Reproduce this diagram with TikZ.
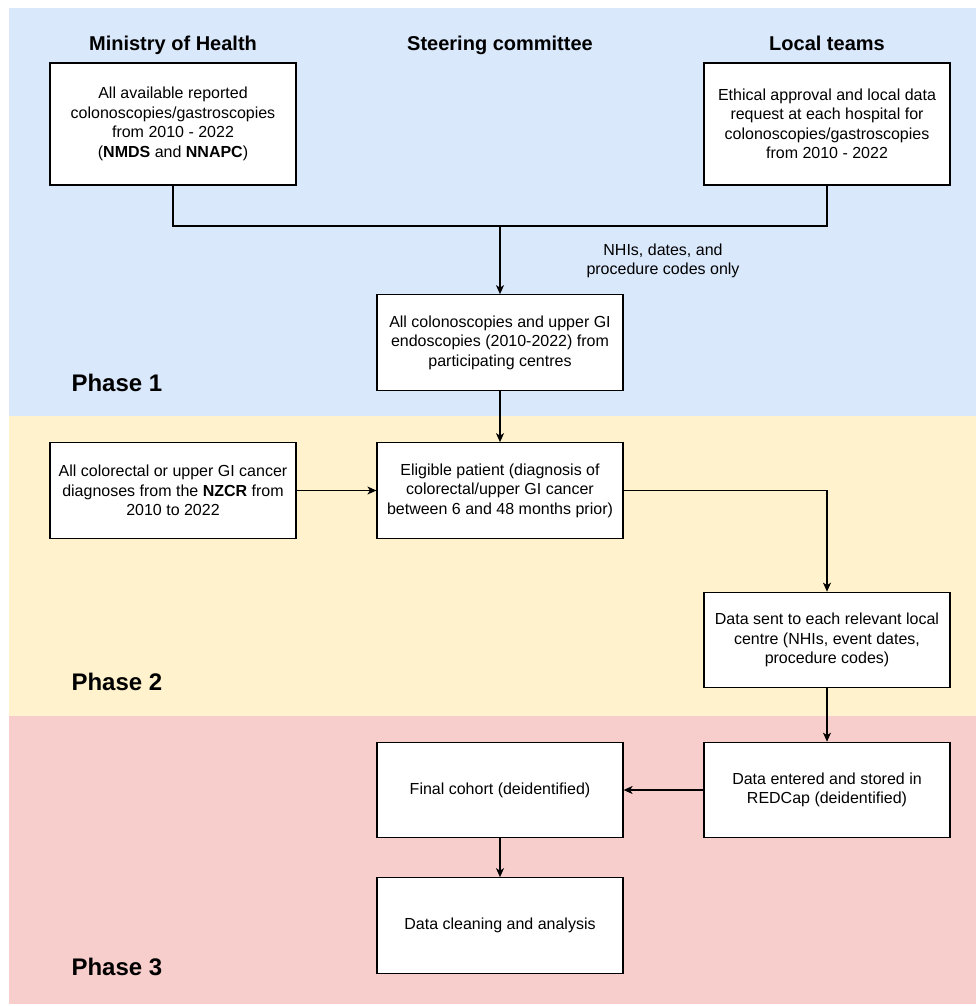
\documentclass[tikz,border=0pt]{standalone}
\usepackage{fontspec}
\setmainfont{Liberation Sans}
\usetikzlibrary{arrows.meta}
\definecolor{bandblue}{HTML}{DAE8FC}
\definecolor{bandyellow}{HTML}{FFF2CC}
\definecolor{bandred}{HTML}{F8CECC}
\begin{document}
\begin{tikzpicture}[x=1pt,y=-1pt,
  box/.style={draw=black, fill=white, line width=1.2pt, align=center,
    minimum width=246pt, minimum height=95.5pt, inner sep=0pt,
    font=\fontsize{16}{19.5}\selectfont},
  tallbox/.style={box, minimum height=122pt},
  head/.style={font=\fontsize{20}{24}\selectfont\bfseries, anchor=base},
  phase/.style={font=\fontsize{24}{28}\selectfont\bfseries, anchor=base west},
  lbl/.style={font=\fontsize{16}{19.5}\selectfont, align=center},
  conn/.style={draw=black, line width=1.2pt},
  arr/.style={conn, -{Stealth[length=9pt,width=8pt,inset=2.5pt]}}]
\useasboundingbox (0,0) rectangle (976,1006);
% bands
\fill[bandblue] (9,8) rectangle (976,416);
\fill[bandyellow] (9,416) rectangle (976,716);
\fill[bandred] (9,716) rectangle (976,1004);
% headers
\node[head] (h1) at (173,51) {Ministry of Health};
\node[head] (h2) at (500,51) {Steering committee};
\node[head] (h3) at (827,51) {Local teams};
% phases
\node[phase] (p1) at (68,391) {Phase 1};
\node[phase] (p2) at (68,690) {Phase 2};
\node[phase] (p3) at (68,975) {Phase 3};
% boxes
\node[tallbox] (moh) at (173,124) {All available reported\\colonoscopies/gastroscopies\\from 2010 - 2022\\(\textbf{NMDS} and \textbf{NNAPC})};
\node[tallbox] (loc) at (827,124) {Ethical approval and local data\\request at each hospital for\\colonoscopies/gastroscopies\\from 2010 - 2022};
\node[box] (all) at (500,342.5) {All colonoscopies and upper GI\\endoscopies (2010-2022) from\\participating centres};
\node[box] (nzcr) at (173,490.5) {All colorectal or upper GI cancer\\diagnoses from the \textbf{NZCR} from\\2010 to 2022};
\node[box] (elig) at (500,490.5) {Eligible patient (diagnosis of\\colorectal/upper GI cancer\\between 6 and 48 months prior)};
\node[box] (sent) at (827,640) {Data sent to each relevant local\\centre (NHIs, event dates,\\procedure codes)};
\node[box] (red) at (827,790) {Data entered and stored in\\REDCap (deidentified)};
\node[box] (fin) at (500,790) {Final cohort (deidentified)};
\node[box] (clean) at (500,925.5) {Data cleaning and analysis};
% connectors
\coordinate (join) at (500,226);
\draw[conn] (moh.south) |- (join) -| (loc.south);
\draw[arr] (join) -- (all.north);
\node[lbl] (nhis) at (663,261) {NHIs, dates, and\\procedure codes only};
\draw[arr] (all.south) -- (elig.north);
\draw[arr] (nzcr.east) -- (elig.west);
\draw[arr] (elig.east) -| (sent.north);
\draw[arr] (sent.south) -- (red.north);
\draw[arr] (red.west) -- (fin.east);
\draw[arr] (fin.south) -- (clean.north);
\end{tikzpicture}
\end{document}
